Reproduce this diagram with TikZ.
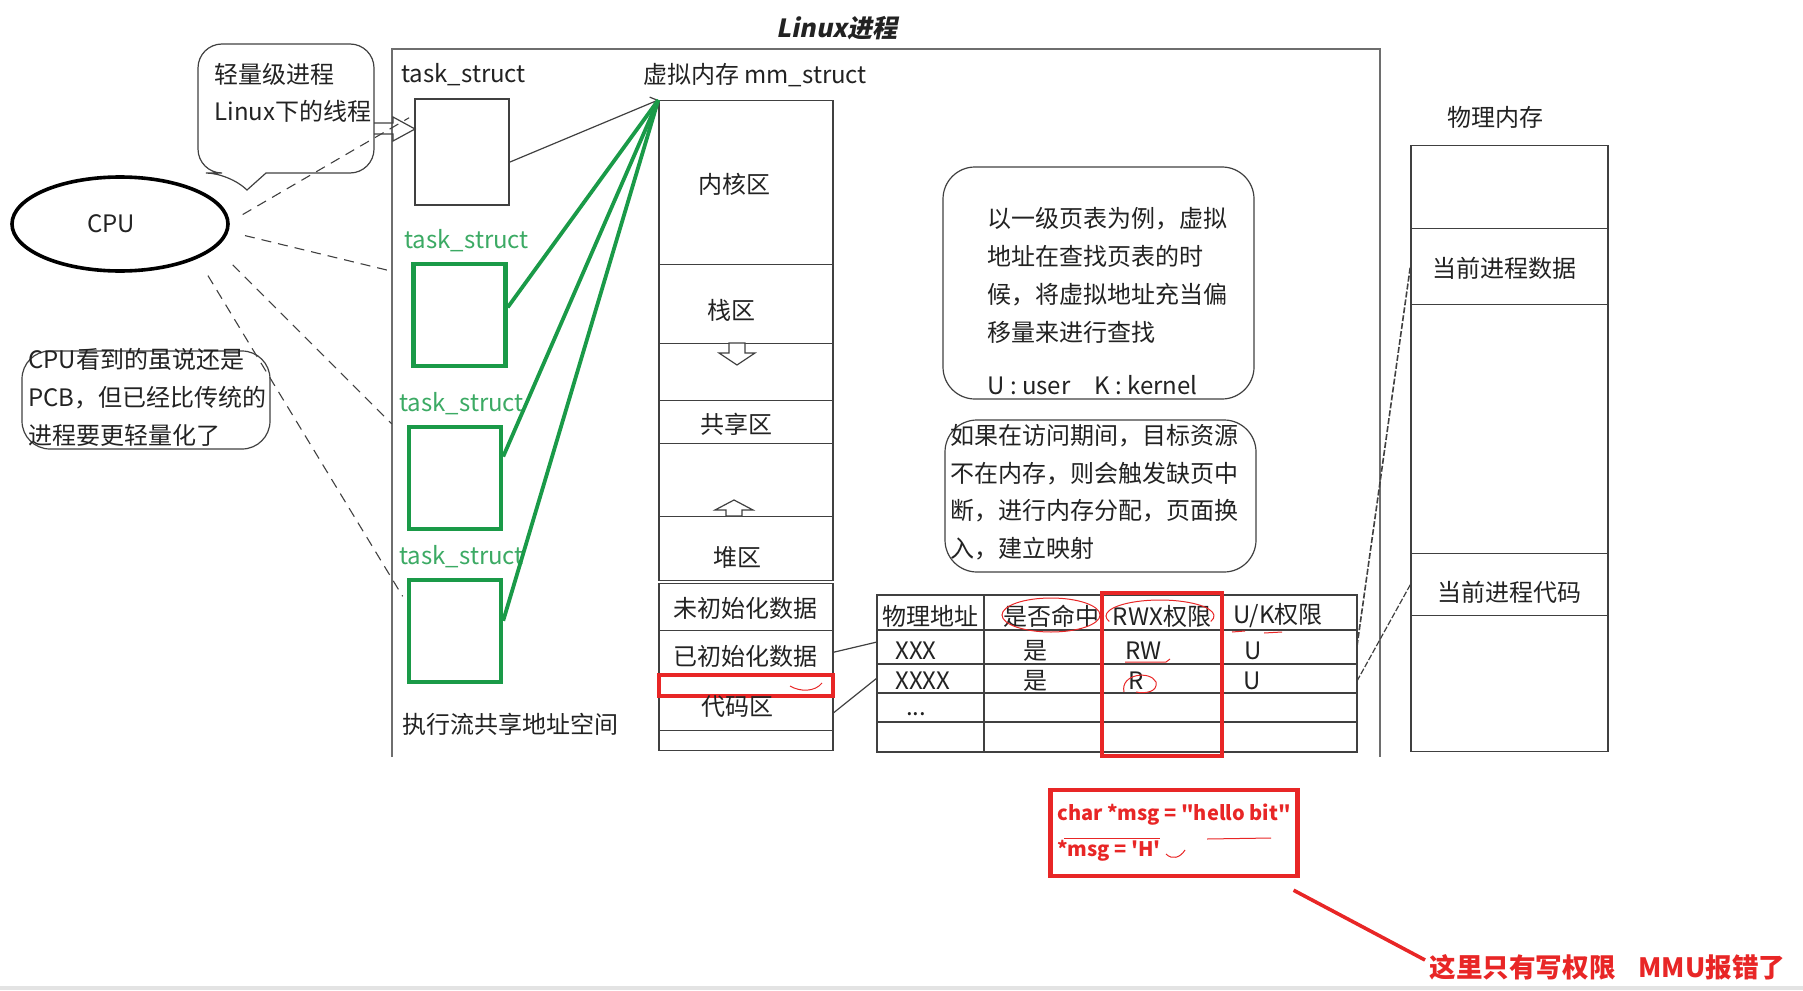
\documentclass[tikz,border=0pt]{standalone}
\usepackage{fontspec}
\setmainfont{Noto Sans CJK SC}
\newfontfamily\slantfont[FakeSlant=0.2]{Noto Sans CJK SC}
\font\codefnt="Noto Sans CJK SC/B" at 10pt
\usepackage{tikz}
\usetikzlibrary{arrows.meta,shapes.geometric}

\definecolor{linegray}{RGB}{64,64,64}
\definecolor{framegray}{RGB}{110,110,110}
\definecolor{tgreen}{RGB}{26,154,72}
\definecolor{lgreen}{RGB}{60,170,100}
\definecolor{mred}{RGB}{232,38,38}
\definecolor{ink}{RGB}{34,34,34}

\begin{document}
\begin{tikzpicture}[x=0.5pt, y=-0.5pt, font=\fontsize{12}{14}\selectfont, text=ink,
  mmcell/.style={draw=linegray, line width=0.7pt, minimum width=87pt, inner sep=0pt, anchor=north},
  physcell/.style={draw=linegray, line width=0.7pt, minimum width=98.5pt, inner sep=0pt, anchor=north},
  greenbox/.style={draw=tgreen, line width=2.2pt, minimum width=46pt, minimum height=51pt, inner sep=0pt},
  cpulink/.style={linegray, line width=0.55pt, dash pattern=on 5pt off 3.5pt},
  greenlink/.style={tgreen, line width=1.9pt},
  tablink/.style={linegray, line width=0.6pt, dash pattern=on 3pt off 1pt},
  redpen/.style={mred, line width=0.5pt},
  hollow/.style={draw=linegray, fill=white, line width=0.6pt},
  bubble/.style={draw=linegray, line width=0.6pt},
  txt/.style={anchor=north west, align=left, inner sep=0pt},
]
\useasboundingbox (0,0) rectangle (1803,990);
\fill[gray!22] (0,986) rectangle (1803,990);

\node[font=\slantfont\bfseries\fontsize{12.5}{15}\selectfont] (title) at (837,28) {Linux进程};

% process frame
\draw[framegray, line width=0.7pt] (392,757) -- (392,49) -- (1380,49) -- (1380,757);

% cpu and the task_structs
\node[ellipse, draw=black, line width=1.8pt, minimum width=108pt, minimum height=47pt] (cpu) at (120,224) {\hspace*{-9pt}CPU};

\node[anchor=west, inner sep=0pt] (tl1) at (401,75) {task\_struct};
\node[draw=linegray, line width=0.7pt, minimum width=47pt, minimum height=53pt, inner sep=0pt] (task1) at (462,152) {};

\foreach \n/\x/\y/\lx/\ly in {2/459.5/315/404/241, 3/455/478/399/404, 4/455/631/399/557}{
  \node[greenbox] (ts\n) at (\x,\y) {};
  \node[anchor=west, inner sep=0pt, text=lgreen] (tl\n) at (\lx,\ly) {task\_struct};
}

\draw[cpulink, shorten <=7.5pt, shorten >=3pt] (cpu.1) -- (task1.142);
\draw[cpulink, shorten <=8.5pt, shorten >=11pt] (cpu.-4) -- (ts2.141.5);
\draw[cpulink, shorten <=12pt, shorten >=10.7pt] (cpu.-14) -- (ts3.141);
\draw[cpulink, shorten <=10pt, shorten >=4pt] (cpu.-24) -- (ts4.150);

% bubbles
\draw[bubble] (230,173) [sharp corners] -- (247,190) -- (266,173) [rounded corners=12pt] -- (374,173) -- (374,44) -- (198,44) -- (198,173) -- cycle;
\node[txt, font=\fontsize{12}{18.5}\selectfont] (bub1) at (214,63) {轻量级进程\\Linux下的线程};
\draw[hollow, fill=none] (374,123) -- (393,123) -- (393,117) -- (415,129) -- (393,141) -- (393,134) -- (374,134);

\draw[bubble, rounded corners=14pt] (22,351) rectangle (270,449);
\node[txt, font=\fontsize{12}{19}\selectfont] (bub2) at (28,348) {CPU看到的虽说还是\\PCB，但已经比传统的\\进程要更轻量化了};

\draw[bubble, rounded corners=16pt] (943,167) rectangle (1254,399);
\node[txt, font=\fontsize{12}{19}\selectfont] (bub3) at (987,207) {以一级页表为例，虚拟\\地址在查找页表的时\\候，将虚拟地址充当偏\\移量来进行查找\\[7.5pt]U : user\quad K : kernel};

\draw[bubble, rounded corners=16pt] (945,420) rectangle (1256,572);
\node[txt, font=\fontsize{12}{18.75}\selectfont] (bub4) at (950,424) {如果在访问期间，目标资源\\不在内存，则会触发缺页中\\断，进行内存分配，页面换\\入，建立映射};

% mm_struct
\node (mmlbl) at (755,75) {虚拟内存 mm\_struct};
\node[mmcell, minimum height=82pt] (kern) at (746,100) {};
\node[mmcell, minimum height=39.5pt] (stack) at (746,264) {};
\node[mmcell, minimum height=28.5pt] (gapa) at (746,343) {};
\node[mmcell, minimum height=21.5pt] (shared) at (746,400) {};
\node[mmcell, minimum height=36.5pt] (gapb) at (746,443) {};
\node[mmcell, minimum height=32pt] (heap) at (746,516) {};
\node[mmcell, minimum height=23.5pt] (bss) at (746,583) {};
\node[mmcell, minimum height=21.5pt] (idata) at (746,630) {};
\node[mmcell, minimum height=18pt] (ctext) at (746,694) {};
\node[mmcell, minimum height=10pt] (tail) at (746,730) {};
\node[mmcell, draw=mred, line width=2.2pt, minimum height=10.5pt] (redcell) at (746,673) {};

\node (kernt) at (734,184) {内核区};
\node (stackt) at (731,310) {栈区};
\node (sharedt) at (736,424) {共享区};
\node (heapt) at (737,557) {堆区};
\node (bsst) at (745,608) {未初始化数据};
\node (idatat) at (745,656) {已初始化数据};
\node (ctextt) at (737,707) {代码区};

\draw[hollow] (729,343) -- (745,343) -- (745,353) -- (755,353) -- (737,365) -- (719,353) -- (729,353) -- cycle;
\draw[hollow] (726,516) -- (742,516) -- (742,510) -- (753,510) -- (734,500) -- (715,510) -- (726,510) -- cycle;

\draw[linegray, line width=0.6pt, -{Straight Barb[length=3pt]}] (task1.-12) -- (kern.north west);
\foreach \n/\a in {2/9, 3/24, 4/12}
  \draw[greenlink] (ts\n.\a) -- (kern.north west);

\node (sharelbl) at (510,724) {执行流共享地址空间};

% page table
\draw[linegray, line width=0.7pt] (877,595) rectangle (1357,752);
\foreach \x in {984,1102,1222} \draw[linegray, line width=0.7pt] (\x,595) -- (\x,752);
\foreach \y in {630,664,693,722} \draw[linegray, line width=0.7pt] (877,\y) -- (1357,\y);

\node (th1) at (930,616) {物理地址};
\node (th2) at (1051,616) {是否命中};
\node (th3) at (1162,616) {RWX权限};
\node (th4) at (1278,616) {U/K权限};
\node[anchor=west, inner sep=0pt] (ta1) at (895,651) {XXX};
\node (tb1) at (1035,651) {是};
\node[anchor=west, inner sep=0pt] (tc1) at (1125,651) {RW};
\node (td1) at (1253,651) {U};
\node[anchor=west, inner sep=0pt] (ta2) at (895,681) {XXXX};
\node (tb2) at (1035,681) {是};
\node[anchor=west, inner sep=0pt] (tc2) at (1128,681) {R};
\node (td2) at (1252,681) {U};
\node[inner sep=0pt] (ta3) at (916,714) {...};

\draw[mred, line width=2.2pt] (1102,593) rectangle (1222,756);

\coordinate (row1L) at (877,642);
\coordinate (row2L) at (877,678);
\coordinate (row1R) at (1357,646);
\coordinate (row2R) at (1357,681);
\draw[linegray, line width=0.6pt] (idata.east) -- (row1L);
\draw[linegray, line width=0.6pt] (ctext.east) -- (row2L);

% physical memory
\node (physlbl) at (1495,117) {物理内存};
\node[physcell, minimum height=41.5pt] (pm1) at (1509.5,145) {};
\node[physcell, minimum height=38pt] (pdata) at (1509.5,228) {};
\node[physcell, minimum height=124.5pt] (pm3) at (1509.5,304) {};
\node[physcell, minimum height=31pt] (pcode) at (1509.5,553) {};
\node[physcell, minimum height=68pt] (pm5) at (1509.5,615) {};
\node (pdatat) at (1504,268) {当前进程数据};
\node (pcodet) at (1509,592) {当前进程代码};

\draw[tablink, line width=0.8pt] (row1R) -- (pdata.west);
\draw[tablink] (row2R) -- (pcode.west);

% red pen marks
\draw[redpen] (1051,615) ellipse [x radius=24.5pt, y radius=8.5pt];
\draw[redpen] ([shift={(-20:27pt and 8pt)}]1160,616) arc[start angle=-20, end angle=200, x radius=27pt, y radius=8pt];
\draw[redpen] (1232,632) -- (1245,631);
\draw[redpen] (1264,633) -- (1282,632);
\draw[redpen] (1125,662) -- (1166,662) -- (1170,659);
\draw[redpen] (1124,692) .. controls (1120,674) and (1150,670) .. (1156,682) .. controls (1158,692) and (1145,694) .. (1136,692);
\draw[redpen] (790,686) .. controls (800,692) and (815,692) .. (822,683);

% code and the error note
\node[draw=mred, line width=2.2pt, minimum width=122pt, minimum height=43pt, align=left, text=mred,
  font={\codefnt\baselineskip=18pt\relax}] (msgbox) at (1174,833) {char *msg = "hello bit"\\{}*msg = 'H'};
\draw[redpen] (1064,838) -- (1160,838);
\draw[redpen] (1207,839) -- (1271,838);
\draw[redpen] (1166,854) .. controls (1172,860) and (1180,858) .. (1185,850);

\node[anchor=west, inner sep=0pt, text=mred, font=\bfseries\fontsize{13.3}{16}\selectfont] (warn) at (1429,967) {这里只有写权限\hspace{11.5pt}MMU报错了};
\draw[mred, line width=1.8pt] ([shift={(-6,12)}]msgbox.south east) -- ([shift={(-4,-7)}]warn.west);

\end{tikzpicture}
\end{document}
